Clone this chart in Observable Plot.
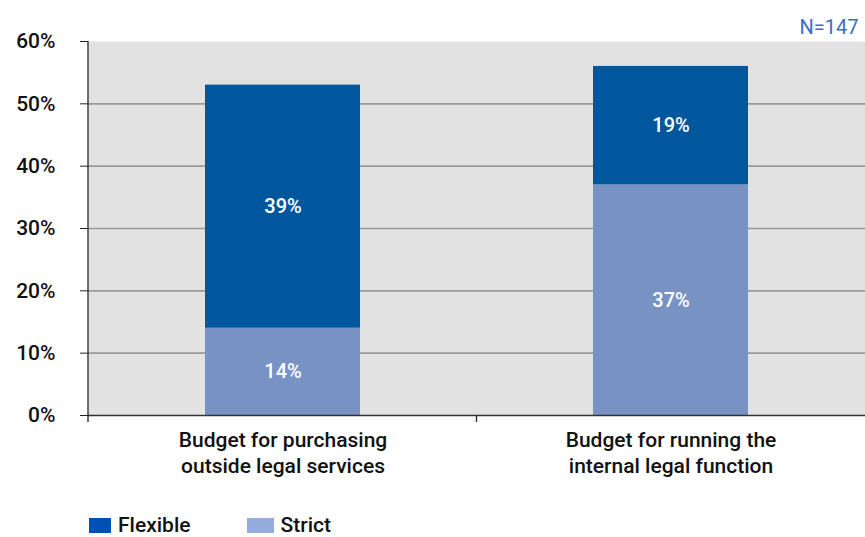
<!DOCTYPE html>
<html>
<head>
<meta charset="utf-8">
<script src="https://cdn.jsdelivr.net/npm/d3@7"></script>
<script src="https://cdn.jsdelivr.net/npm/@observablehq/plot@0.6"></script>
<style>
  body { margin: 0; background: #fff; font-family: Roboto, "Liberation Sans", Arial, sans-serif; }
  #wrap { position: relative; width: 865px; height: 537px; overflow: hidden; }
  #legend { position: absolute; left: 89px; top: 513px; height: 24px; display: flex; align-items: center; font-weight: 500; font-size: 21px; line-height: 24px; color: #111; }
  .sw { display: inline-block; height: 15px; margin-right: 7px; }
</style>
</head>
<body>
<div id="wrap"></div>
<script>
const categories = ["outside", "internal"];
const tickLabels = ["Budget for purchasing\noutside legal services", "Budget for running the\ninternal legal function"];
const series = ["Strict", "Flexible"];
const strictValues = [14, 37];
const flexibleValues = [39, 19];
const yTicks = [0, 10, 20, 30, 40, 50, 60];
const note = "N=147";

const barColors = {Strict: "#7792c3", Flexible: "#01579d"};
const legendColors = {Flexible: "#0050b5", Strict: "#94addc"};

const data = [];
categories.forEach((c, i) => {
  data.push({cat: c, series: "Strict", value: strictValues[i]});
  data.push({cat: c, series: "Flexible", value: flexibleValues[i]});
});

const separators = (index, scales, values, dims) => {
  const g = d3.create("svg:g").attr("stroke", "#222").attr("stroke-width", 1.3);
  const left = dims.marginLeft, right = dims.width - dims.marginRight;
  const bottom = dims.height - dims.marginBottom;
  const n = categories.length;
  g.append("line").attr("x1", left).attr("x2", left).attr("y1", dims.marginTop).attr("y2", bottom + 7);
  for (let k = 1; k < n; k++) {
    const xx = left + k * (right - left) / n;
    g.append("line").attr("x1", xx).attr("x2", xx).attr("y1", bottom).attr("y2", bottom + 7);
  }
  return g.node();
};

const chart = Plot.plot({
  width: 865,
  height: 500,
  marginLeft: 88,
  marginRight: 0,
  marginTop: 41,
  marginBottom: 85,
  style: {fontFamily: "Roboto, Liberation Sans, Arial, sans-serif", background: "#fff"},
  x: {domain: categories, paddingInner: 0.6, paddingOuter: 0.3, label: null},
  y: {domain: [0, 60], label: null},
  color: {domain: series, range: series.map(s => barColors[s])},
  marks: [
    Plot.frame({fill: "#e2e2e2", stroke: null}),
    Plot.ruleY(yTicks.filter(d => d > 0 && d < 60), {stroke: "#9a9a9a", strokeWidth: 1.6}),
    Plot.barY(data, Plot.stackY({x: "cat", y: "value", fill: "series", order: series})),
    Plot.text(data, Plot.stackY({x: "cat", y: "value", z: "series", order: series, text: d => d.value + "%", fill: "white", fontSize: 20, fontWeight: 500})),
    Plot.ruleY([0], {stroke: "#333", strokeWidth: 1.3}),
    Plot.axisY({ticks: yTicks, tickFormat: d => d + "%", tickSize: 8, tickPadding: 25, fontSize: 21, fontWeight: 500, fill: "#111", stroke: "#222"}),
    Plot.axisX({tickSize: 0, tickPadding: 13, fontSize: 21, fontWeight: 500, fill: "#111", lineHeight: 1.24, tickFormat: (d, i) => tickLabels[categories.indexOf(d)]}),
    separators,
    Plot.text([note], {frameAnchor: "top-right", dx: -7, dy: -22, fill: "#3a6ec6", fontSize: 20, textAnchor: "end"})
  ]
});

const wrap = document.getElementById("wrap");
wrap.appendChild(chart);
const legend = document.createElement("div");
legend.id = "legend";
legend.innerHTML =
  `<span class="sw" style="width:22px;background:${legendColors.Flexible}"></span><span style="margin-right:56px">Flexible</span>` +
  `<span class="sw" style="width:27px;background:${legendColors.Strict}"></span><span>Strict</span>`;
wrap.appendChild(legend);
</script>
</body>
</html>
